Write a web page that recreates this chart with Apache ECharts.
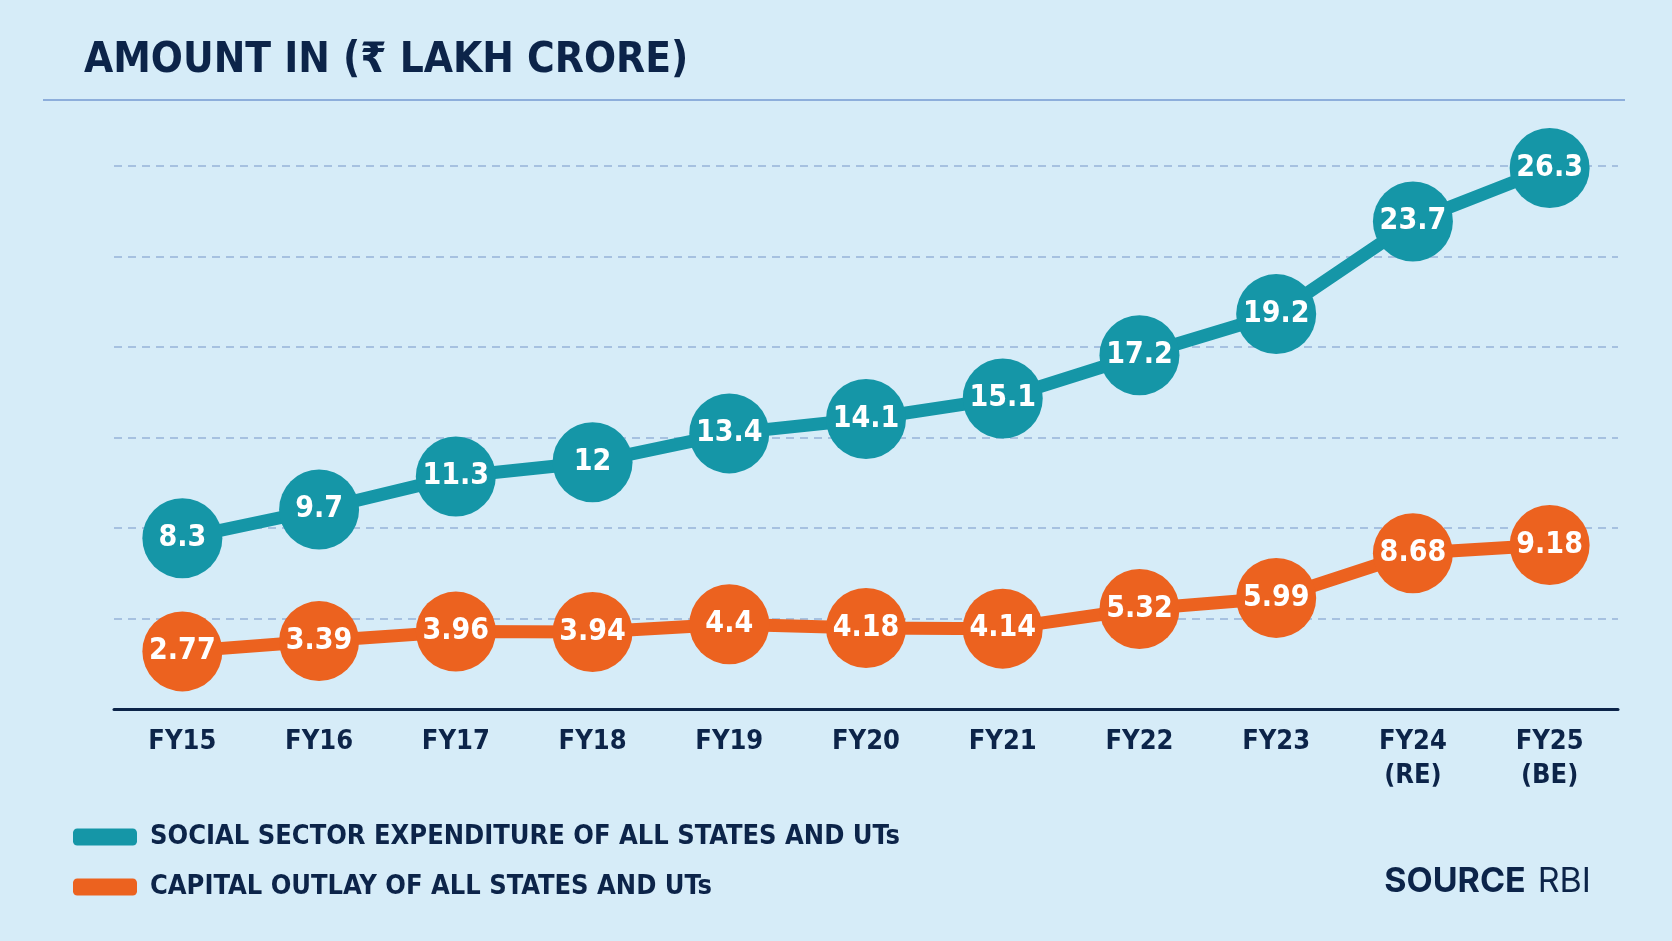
<!DOCTYPE html>
<html>
<head>
<meta charset="utf-8">
<script src="https://cdn.jsdelivr.net/npm/echarts@6/dist/echarts.min.js"></script>
<style>
  html, body { margin: 0; padding: 0; background: #d6ecf8; }
  #main { width: 1672px; height: 941px; }
</style>
</head>
<body>
<div id="main"></div>
<script>
// data
var years = ['FY15', 'FY16', 'FY17', 'FY18', 'FY19', 'FY20', 'FY21', 'FY22', 'FY23', 'FY24\n(RE)', 'FY25\n(BE)'];
var socialSector = [8.3, 9.7, 11.3, 12, 13.4, 14.1, 15.1, 17.2, 19.2, 23.7, 26.3];
var capitalOutlay = [2.77, 3.39, 3.96, 3.94, 4.4, 4.18, 4.14, 5.32, 5.99, 8.68, 9.18];

var NAVY = '#0c2449';
var TEAL = '#1596a7';
var ORANGE = '#ec621f';
var NARROW = '"Liberation Sans Narrow", "DejaVu Sans Condensed", "DejaVu Sans", sans-serif';

window.addEventListener('load', function () {
    var chart = echarts.init(document.getElementById('main'));

    var option = {
        backgroundColor: '#d6ecf8',
        textStyle: { fontFamily: NARROW },
        title: {
            text: 'AMOUNT IN (₹ LAKH CRORE)',
            left: 79,
            top: 35,
            textStyle: {
                color: NAVY,
                fontFamily: NARROW,
                fontWeight: 'bold',
                fontSize: 42
            }
        },
        legend: {
            orient: 'vertical',
            left: 68,
            top: 815,
            icon: 'roundRect',
            itemWidth: 64,
            itemHeight: 17,
            itemGap: 16,
            textStyle: {
                color: NAVY,
                fontFamily: NARROW,
                fontWeight: 'bold',
                fontSize: 27,
                lineHeight: 34,
                padding: [0, 0, 0, 8]
            },
            data: ['SOCIAL SECTOR EXPENDITURE OF ALL STATES AND UTs', 'CAPITAL OUTLAY OF ALL STATES AND UTs']
        },
        graphic: [
            {
                type: 'line',
                shape: { x1: 43, y1: 100, x2: 1625, y2: 100 },
                style: { stroke: '#8daedb', lineWidth: 2 }
            },
            {
                type: 'text',
                right: 81,
                top: 865,
                style: {
                    text: '{b|SOURCE}{r|RBI}',
                    rich: {
                        b: { fontFamily: 'Inter, "Open Sans", sans-serif', fontWeight: 'bold', fontSize: 34, fill: NAVY, padding: [0, 12, 0, 0] },
                        r: { fontFamily: 'Inter, "Open Sans", sans-serif', fontWeight: 'normal', fontSize: 34, fill: NAVY }
                    }
                }
            }
        ],
        grid: {
            left: 114,
            right: 54,
            top: 166,
            bottom: 232
        },
        xAxis: {
            type: 'category',
            data: years,
            boundaryGap: true,
            axisLine: { lineStyle: { color: NAVY, width: 3 } },
            axisTick: { show: false },
            axisLabel: {
                color: NAVY,
                fontFamily: NARROW,
                fontWeight: 'bold',
                fontSize: 27,
                lineHeight: 34,
                margin: 16
            }
        },
        yAxis: [
            {
                type: 'value',
                min: 0,
                max: 26.4,
                interval: 4.4,
                axisLine: { show: false },
                axisTick: { show: false },
                axisLabel: { show: false },
                splitLine: {
                    lineStyle: { color: '#97b3d8', width: 1.5, type: [8, 6] }
                }
            },
            {
                type: 'value',
                min: -0.7,
                max: 32,
                show: false,
                splitLine: { show: false }
            }
        ],
        series: [
            {
                name: 'SOCIAL SECTOR EXPENDITURE OF ALL STATES AND UTs',
                type: 'line',
                yAxisIndex: 0,
                data: socialSector,
                symbol: 'circle',
                symbolSize: 80,
                itemStyle: { color: TEAL },
                lineStyle: { color: TEAL, width: 13 },
                label: {
                    show: true,
                    position: 'inside',
                    color: '#ffffff',
                    fontFamily: NARROW,
                    fontWeight: 'bold',
                    fontSize: 30
                },
                z: 3
            },
            {
                name: 'CAPITAL OUTLAY OF ALL STATES AND UTs',
                type: 'line',
                yAxisIndex: 1,
                data: capitalOutlay,
                symbol: 'circle',
                symbolSize: 80,
                itemStyle: { color: ORANGE },
                lineStyle: { color: ORANGE, width: 13 },
                label: {
                    show: true,
                    position: 'inside',
                    color: '#ffffff',
                    fontFamily: NARROW,
                    fontWeight: 'bold',
                    fontSize: 30
                },
                z: 3
            }
        ]
    };

    chart.setOption(option);
}, false);
</script>
</body>
</html>
